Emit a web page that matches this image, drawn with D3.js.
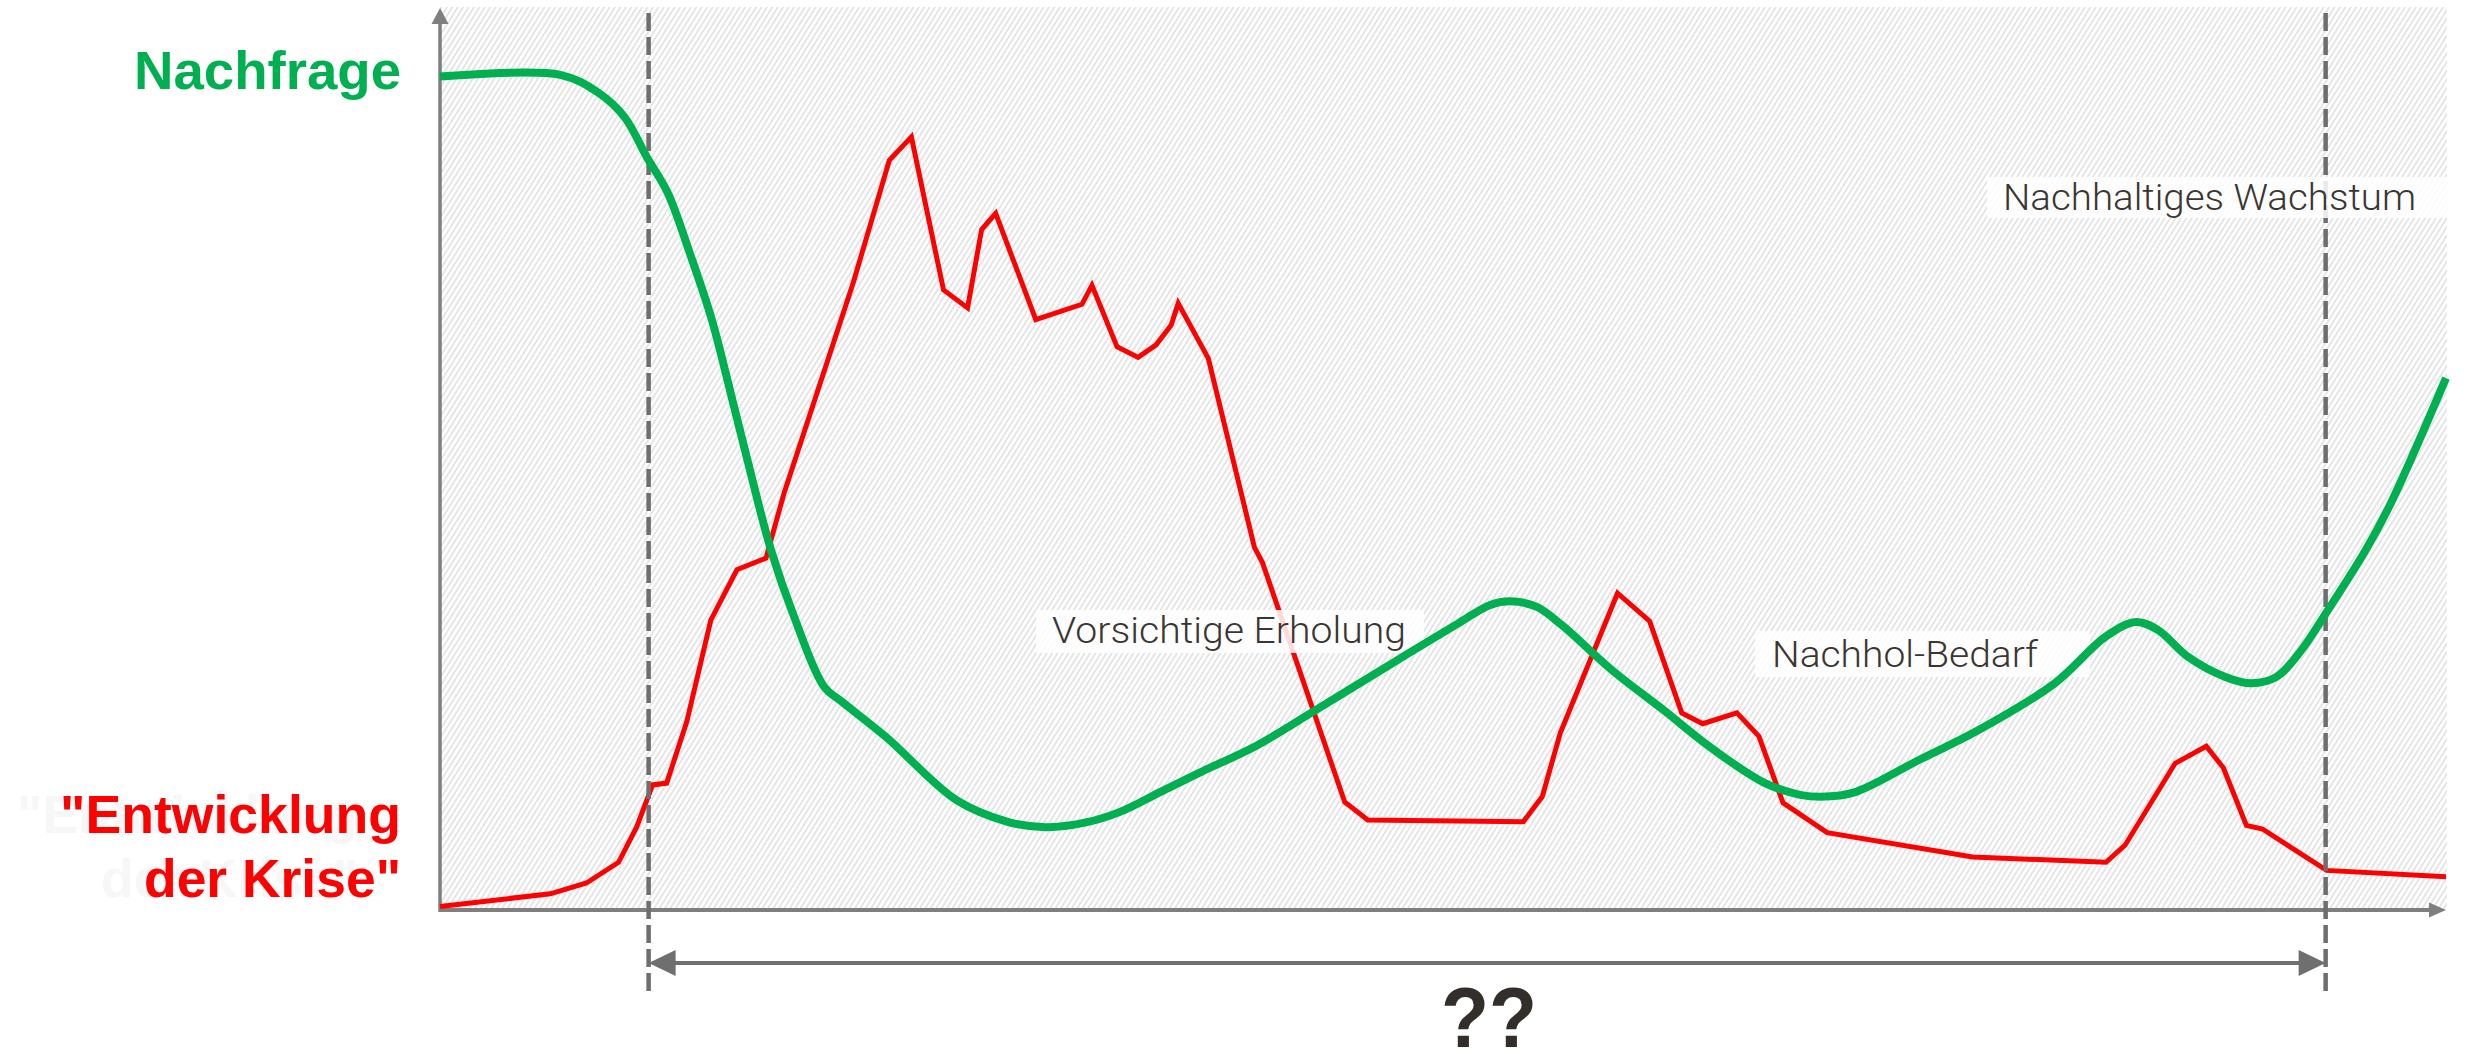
<!DOCTYPE html>
<html>
<head>
<meta charset="utf-8">
<script src="https://cdn.jsdelivr.net/npm/d3@7"></script>
<style>
  body { margin: 0; background: #fff; }
  svg { display: block; }
</style>
</head>
<body>
<div id="chart"></div>
<script>
// time axis runs 0..100, value axis 0..100 (no ticks on the original)
var crisisTime = [0, 5.5, 7.3, 8.9, 9.8, 10.6, 11.3, 12.3, 13.5, 14.8, 16.25, 17.15, 20.6, 22.4, 23.5, 25.1, 26.3, 27.0, 27.7, 29.7,
    32.0, 32.5, 33.75, 34.8, 35.7, 36.45, 36.8, 38.3, 40.6, 41.0, 45.1, 46.25, 54.0, 54.95, 55.85, 58.7, 60.3, 61.9, 62.95, 64.65,
    65.75, 66.95, 69.15, 76.4, 83.05, 84.0, 86.5, 88.05, 88.9, 90.05, 90.85, 94.05, 100];
var crisisValue = [0.4, 1.8, 3.0, 5.3, 9.2, 13.9, 14.1, 20.9, 32.2, 37.8, 39.1, 46.3, 69.7, 83.3, 85.9, 68.9, 66.9, 75.6, 77.4, 65.6,
    67.3, 69.4, 62.6, 61.4, 62.8, 65.0, 67.4, 61.3, 40.3, 38.6, 12.0, 10.0, 9.8, 12.6, 19.7, 35.2, 32.1, 21.9, 20.7, 21.9,
    19.3, 11.9, 8.6, 5.9, 5.3, 7.2, 16.3, 18.2, 15.8, 9.4, 9.0, 4.4, 3.7];

var demandTime = [0, 6.0, 7.9, 9.2, 10.3, 11.35, 12.45, 13.55, 14.55, 15.55, 16.5, 17.65, 19.15, 20.0, 22.25, 25.75, 28.3, 30.2, 32.15,
    33.9, 35.9, 37.9, 40.65, 43.65, 47.75, 50.8, 52.35, 53.35, 54.65, 55.9, 58.4, 61.0, 63.5, 66.05, 67.8, 69.1, 70.55, 73.75,
    76.7, 80.5, 83.05, 84.55, 85.65, 87.1, 89.0, 90.3, 91.55, 92.8, 94.05, 96.0, 97.25, 100];
var demandValue = [92.6, 92.8, 90.8, 88.1, 83.7, 79.7, 73.0, 65.6, 56.9, 48.0, 40.0, 32.6, 24.8, 23.2, 19.2, 12.2, 9.8, 9.2, 9.7,
    10.9, 13.1, 15.3, 18.2, 22.2, 27.8, 31.9, 33.9, 34.3, 33.7, 31.7, 26.7, 22.2, 17.8, 14.1, 12.8, 12.6, 13.1, 16.7,
    20.0, 25.2, 30.4, 32.0, 31.1, 28.2, 25.9, 25.2, 25.9, 28.9, 33.1, 40.0, 45.2, 59.1];

var phaseBounds = [10.4, 94.0]; // the two dashed lines
var phaseNames = ["Vorsichtige Erholung", "Nachhol-Bedarf", "Nachhaltiges Wachstum"];
var spanLabel = "??";

var width = 2467, height = 1054;

var x = d3.scaleLinear().domain([0, 100]).range([440, 2446]);
var y = d3.scaleLinear().domain([0, 100]).range([910, 10]);

var crisis = crisisTime.map((t, i) => ({ t: t, v: crisisValue[i] }));
var demand = demandTime.map((t, i) => ({ t: t, v: demandValue[i] }));

var svg = d3.select("#chart").append("svg")
    .attr("width", width)
    .attr("height", height);

// diagonal hatch
var defs = svg.append("defs");
defs.append("pattern")
    .attr("id", "hatch")
    .attr("patternUnits", "userSpaceOnUse")
    .attr("width", 4.6)
    .attr("height", 10)
    .attr("patternTransform", "rotate(32)")
    .append("line")
    .attr("x1", 1).attr("y1", 0)
    .attr("x2", 1).attr("y2", 10)
    .attr("stroke", "#d2d2d2")
    .attr("stroke-width", 1.1);

svg.append("rect")
    .attr("x", x(0))
    .attr("y", 7)
    .attr("width", x(100) + 1 - x(0))
    .attr("height", y(0) - 7)
    .attr("fill", "url(#hatch)");

// axes (plain lines with arrow heads)
var axisColor = "#7f7f7f";
svg.append("line")
    .attr("x1", x(0)).attr("y1", y(0))
    .attr("x2", x(100) - 10).attr("y2", y(0))
    .attr("stroke", axisColor).attr("stroke-width", 4);
svg.append("path")
    .attr("d", "M" + x(100) + "," + y(0) + "l-17,-7.5v15z")
    .attr("fill", axisColor);
svg.append("line")
    .attr("x1", x(0)).attr("y1", y(0) + 2)
    .attr("x2", x(0)).attr("y2", 20)
    .attr("stroke", axisColor).attr("stroke-width", 3.5);
svg.append("path")
    .attr("d", "M" + x(0) + ",8l-8.5,16h17z")
    .attr("fill", axisColor);

// crisis line
var line = d3.line()
    .x(d => x(d.t))
    .y(d => y(d.v));

svg.append("path")
    .datum(crisis)
    .attr("d", line)
    .attr("fill", "none")
    .attr("stroke", "#ff0000")
    .attr("stroke-width", 5)
    .attr("stroke-linejoin", "miter");

// dashed phase borders
svg.selectAll(".phase")
    .data(phaseBounds)
    .enter()
    .append("line")
    .attr("class", "phase")
    .attr("x1", d => x(d)).attr("x2", d => x(d))
    .attr("y1", 13).attr("y2", 992)
    .attr("stroke", "#6e6e6e")
    .attr("stroke-width", 4.5)
    .attr("stroke-dasharray", "18,6");

// label boxes
var boxes = [
    { x: 1036, y: 610, w: 388, h: 43, tx: 1052, ty: 643, len: 354 },
    { x: 1755, y: 631, w: 335, h: 46, tx: 1772, ty: 667, len: 266 },
    { x: 1987, y: 177, w: 460, h: 41, tx: 2003, ty: 210, len: 413 }
];
svg.selectAll(".box")
    .data(boxes)
    .enter()
    .append("rect")
    .attr("class", "box")
    .attr("x", d => d.x).attr("y", d => d.y)
    .attr("width", d => d.w).attr("height", d => d.h)
    .attr("fill", "#fff")
    .attr("opacity", 0.85);

// demand line
svg.append("path")
    .datum(demand)
    .attr("d", d3.line().x(d => x(d.t)).y(d => y(d.v)).curve(d3.curveCatmullRom.alpha(0.5)))
    .attr("fill", "none")
    .attr("stroke", "#00b050")
    .attr("stroke-width", 8);

svg.selectAll(".phaseName")
    .data(boxes)
    .enter()
    .append("text")
    .attr("class", "phaseName")
    .attr("x", d => d.tx).attr("y", d => d.ty)
    .attr("textLength", d => d.len)
    .attr("lengthAdjust", "spacingAndGlyphs")
    .attr("font-family", "Roboto, 'Liberation Sans', sans-serif")
    .attr("font-weight", 300)
    .attr("font-size", 37)
    .attr("fill", "#3b3632")
    .text((d, i) => phaseNames[i]);

// span arrow below the axis
var spanY = 963;
var arrowColor = "#6f6f6f";
svg.append("line")
    .attr("x1", x(phaseBounds[0]) + 20).attr("x2", x(phaseBounds[1]) - 20)
    .attr("y1", spanY).attr("y2", spanY)
    .attr("stroke", arrowColor).attr("stroke-width", 4);
svg.append("path")
    .attr("d", "M" + x(phaseBounds[0]) + "," + spanY + "l27,-13v26z")
    .attr("fill", arrowColor);
svg.append("path")
    .attr("d", "M" + x(phaseBounds[1]) + "," + spanY + "l-27,-13v26z")
    .attr("fill", arrowColor);

var boldFont = "'Liberation Sans Narrow', 'Liberation Sans', Arial, sans-serif";
svg.append("text")
    .attr("x", 1489).attr("y", 1047)
    .attr("text-anchor", "middle")
    .attr("font-family", boldFont)
    .attr("font-weight", "bold")
    .attr("font-size", 86)
    .attr("textLength", 96)
    .attr("lengthAdjust", "spacingAndGlyphs")
    .attr("fill", "#332e2a")
    .text(spanLabel);

// series titles on the left
var titles = [
    { text: "Nachfrage", y: 89, len: 267, color: "#00b050", ghost: false },
    { text: "\"Entwicklung", y: 833, len: 341, color: "#ff0000", ghost: true },
    { text: "der Krise\"", y: 897, len: 257, color: "#ff0000", ghost: true }
];

// faint echo of the red title, as on the original slide
svg.selectAll(".ghost")
    .data(titles.filter(d => d.ghost))
    .enter()
    .append("text")
    .attr("class", "ghost")
    .attr("x", 401 - 43).attr("y", d => d.y)
    .attr("text-anchor", "end")
    .attr("font-family", boldFont)
    .attr("font-weight", "bold")
    .attr("font-size", 54)
    .attr("textLength", d => d.len)
    .attr("lengthAdjust", "spacingAndGlyphs")
    .attr("fill", "#f7f7f7")
    .text(d => d.text);

svg.selectAll(".title")
    .data(titles)
    .enter()
    .append("text")
    .attr("class", "title")
    .attr("x", 401).attr("y", d => d.y)
    .attr("text-anchor", "end")
    .attr("font-family", boldFont)
    .attr("font-weight", "bold")
    .attr("font-size", 53)
    .attr("textLength", d => d.len)
    .attr("lengthAdjust", "spacingAndGlyphs")
    .attr("fill", d => d.color)
    .text(d => d.text);
</script>
</body>
</html>
